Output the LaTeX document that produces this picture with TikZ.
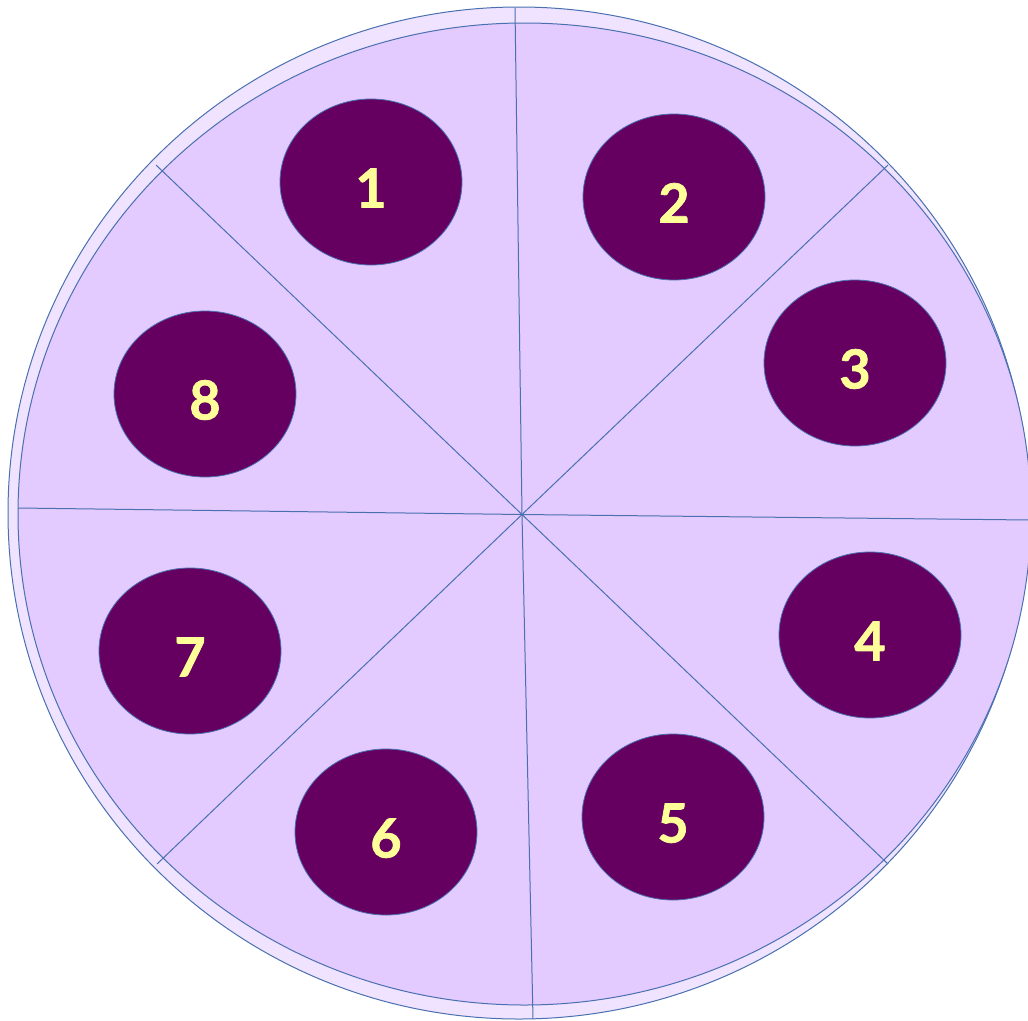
\documentclass[tikz,border=0pt]{standalone}
\usepackage{fontspec}
\setmainfont{Lato}
\newfontfamily\digitfont{Lato}[BoldFeatures={FakeBold=1.3}]
\usetikzlibrary{shapes.geometric}
\definecolor{ringfill}{HTML}{EFE3FF}
\definecolor{sectorfill}{HTML}{E3CBFF}
\definecolor{edgeblue}{HTML}{4A70B0}
\definecolor{wellfill}{HTML}{650060}
\definecolor{digitcol}{HTML}{FFFF99}
\begin{document}
\begin{tikzpicture}[x=1pt,y=-1pt,
  well/.style={ellipse, draw=edgeblue, line width=0.8pt, fill=wellfill,
    minimum width=182pt, minimum height=166pt, inner sep=0pt,
    text=digitcol, font=\fontsize{54}{60}\digitfont\bfseries,
    text height=51pt, text depth=0pt},
  spoke/.style={draw=edgeblue, line width=1pt}]
\useasboundingbox (0,0) rectangle (1028,1020);
\clip (0,0) rectangle (1028,1020);
% outer rim
\draw[edgeblue, fill=ringfill, line width=1pt] (519,513) ellipse [x radius=511, y radius=506];
% sector disc
\draw[edgeblue, fill=sectorfill, line width=1pt] (524.5,514) ellipse [x radius=506.5, y radius=491];
% spokes
\coordinate (C) at (522,514.5);
\coordinate (pN) at (515,8);
\coordinate (pNE) at (888,165);
\coordinate (pE) at (1030,520);
\coordinate (pSE) at (888,864);
\coordinate (pS) at (533,1019);
\coordinate (pSW) at (157,864);
\coordinate (pW) at (18,508);
\coordinate (pNW) at (156,165);
\foreach \p in {pN,pNE,pE,pSE,pS,pSW,pW,pNW} \draw[spoke] (C) -- (\p);
% wells
\node[well] (w1) at (371,182) {1};
\node[well] (w2) at (674,197) {2};
\node[well] (w3) at (855,363) {3};
\node[well] (w4) at (870,635) {4};
\node[well] (w5) at (673,817) {5};
\node[well] (w6) at (386,832) {6};
\node[well] (w7) at (190,651) {7};
\node[well] (w8) at (205,394) {8};
\end{tikzpicture}
\end{document}
